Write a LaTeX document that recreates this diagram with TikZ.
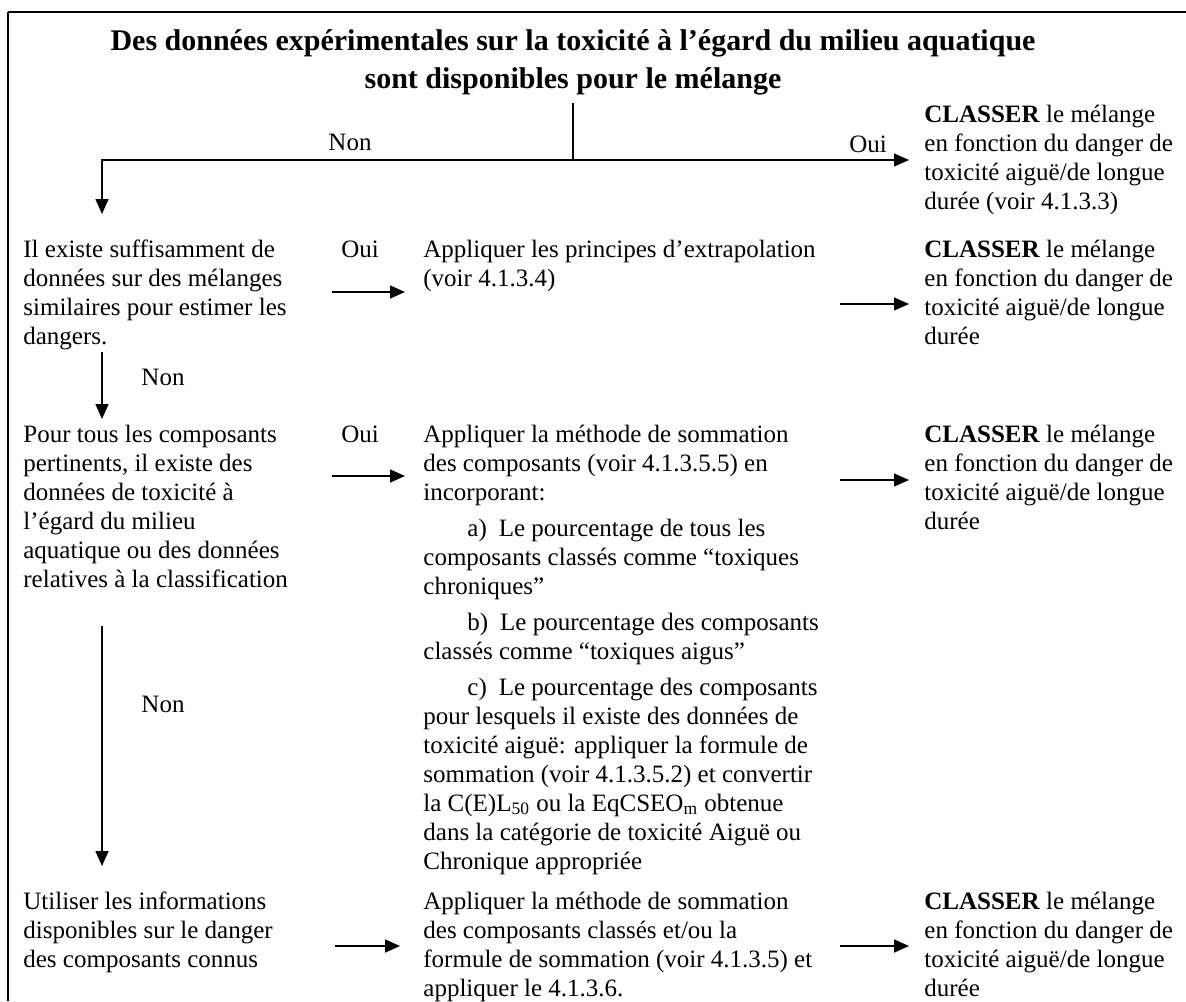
\documentclass[tikz,border=0pt]{standalone}
\usepackage{fontspec}
\setmainfont{Liberation Serif}
\usetikzlibrary{arrows.meta}
\newcommand\cellbox[2]{\parbox[t]{#1}{\raggedright #2}}
\newcommand\itemhead[1]{\hspace*{22pt}#1\hspace{6pt}}
\begin{document}
\begin{tikzpicture}[x=0.5pt,y=-0.5pt,
  body/.style={inner sep=0pt, font=\fontsize{12.5pt}{14.5pt}\selectfont},
  txt/.style={body, anchor=base west},
  lbl/.style={body, anchor=base},
  wire/.style={line width=0.8pt},
  arr/.style={wire, -{Triangle[length=7.5pt,width=6.5pt]}}]
\useasboundingbox (0,0) rectangle (1186,1001);

% frame (top rule and left rule)
\draw[line width=1.4pt] (8,12) -- (1186,12);
\draw[line width=0.7pt] (8,12) -- (8,1001);

% heading question
\node[anchor=base, inner sep=0pt] (title) at (573,50)
  {\parbox[t]{580pt}{\centering\fontsize{15pt}{19pt}\selectfont\bfseries
   Des données expérimentales sur la toxicité à l’égard du milieu aquatique\\
   sont disponibles pour le mélange}};

% first outcome
\node[txt] (c1) at (924,122) {\cellbox{150pt}{\textbf{CLASSER} le mélange\\
  en fonction du danger de\\toxicité aiguë/de longue\\durée (voir 4.1.3.3)}};

% row 2
\node[txt] (q2) at (23,257) {\cellbox{150pt}{Il existe suffisamment de\\
  données sur des mélanges\\similaires pour estimer les\\dangers.}};
\node[txt] (m2) at (423,257) {\cellbox{220pt}{Appliquer les principes d’extrapolation\\
  (voir 4.1.3.4)}};
\node[txt] (c2) at (924,257) {\cellbox{150pt}{\textbf{CLASSER} le mélange\\
  en fonction du danger de\\toxicité aiguë/de longue\\durée}};

% row 3
\node[txt] (q3) at (23,442) {\cellbox{150pt}{Pour tous les composants\\
  pertinents, il existe des\\données de toxicité à\\l’égard du milieu\\
  aquatique ou des données\\relatives à la classification}};
\node[txt] (m3) at (423,442) {\cellbox{220pt}{Appliquer la méthode de sommation\\
  des composants (voir 4.1.3.5.5) en\\
  incorporant:\\[3.5pt]
  \itemhead{a)}Le pourcentage de tous les\\
  composants classés comme “toxiques\\
  chroniques”\\[3.5pt]
  \itemhead{b)}Le pourcentage des composants\\
  classés comme “toxiques aigus”\\[3.5pt]
  \itemhead{c)}Le pourcentage des composants\\
  pour lesquels il existe des données de\\
  toxicité aiguë: appliquer la formule de\\
  sommation (voir 4.1.3.5.2) et convertir\\
  la C(E)L\textsubscript{50} ou la EqCSEO\textsubscript{m} obtenue\\
  dans la catégorie de toxicité Aiguë ou\\
  Chronique appropriée}};
\node[txt] (c3) at (924,442) {\cellbox{150pt}{\textbf{CLASSER} le mélange\\
  en fonction du danger de\\toxicité aiguë/de longue\\durée}};

% row 4
\node[txt] (q4) at (23,909) {\cellbox{150pt}{Utiliser les informations\\
  disponibles sur le danger\\des composants connus}};
\node[txt] (m4) at (423,909) {\cellbox{220pt}{Appliquer la méthode de sommation\\
  des composants classés et/ou la\\formule de sommation (voir 4.1.3.5) et\\
  appliquer le 4.1.3.6.}};
\node[txt] (c4) at (924,909) {\cellbox{150pt}{\textbf{CLASSER} le mélange\\
  en fonction du danger de\\toxicité aiguë/de longue\\durée}};

% branch labels
\node[lbl] (non1) at (350,150) {Non};
\node[lbl] (oui1) at (868,152) {Oui};
\node[lbl] (oui2) at (360,257) {Oui};
\node[lbl] (non2) at (163,385) {Non};
\node[lbl] (oui3) at (360,442) {Oui};
\node[lbl] (non3) at (163,712) {Non};

% connector points
\coordinate (t0) at (573,103);
\coordinate (split) at (573,160);
\coordinate (corner) at (102,160);
\coordinate (a1e) at (909,160);
\coordinate (a0e) at (102,214);
\coordinate (l2s) at (332,292); \coordinate (l2e) at (405,292);
\coordinate (r2s) at (840,304); \coordinate (r2e) at (909,304);
\coordinate (d2s) at (102,352); \coordinate (d2e) at (102,419);
\coordinate (l3s) at (332,476); \coordinate (l3e) at (405,476);
\coordinate (r3s) at (840,480); \coordinate (r3e) at (909,480);
\coordinate (d3s) at (102,626); \coordinate (d3e) at (102,866);
\coordinate (l4s) at (335,946); \coordinate (l4e) at (400,946);
\coordinate (r4s) at (840,946); \coordinate (r4e) at (909,946);

% connectors
\draw[wire] (t0) -- (split);
\draw[arr] (split) -- (a1e);
\draw[arr] (split) -- (corner) -- (a0e);
\draw[arr] (l2s) -- (l2e);
\draw[arr] (r2s) -- (r2e);
\draw[arr] (d2s) -- (d2e);
\draw[arr] (l3s) -- (l3e);
\draw[arr] (r3s) -- (r3e);
\draw[arr] (d3s) -- (d3e);
\draw[arr] (l4s) -- (l4e);
\draw[arr] (r4s) -- (r4e);
\end{tikzpicture}
\end{document}
